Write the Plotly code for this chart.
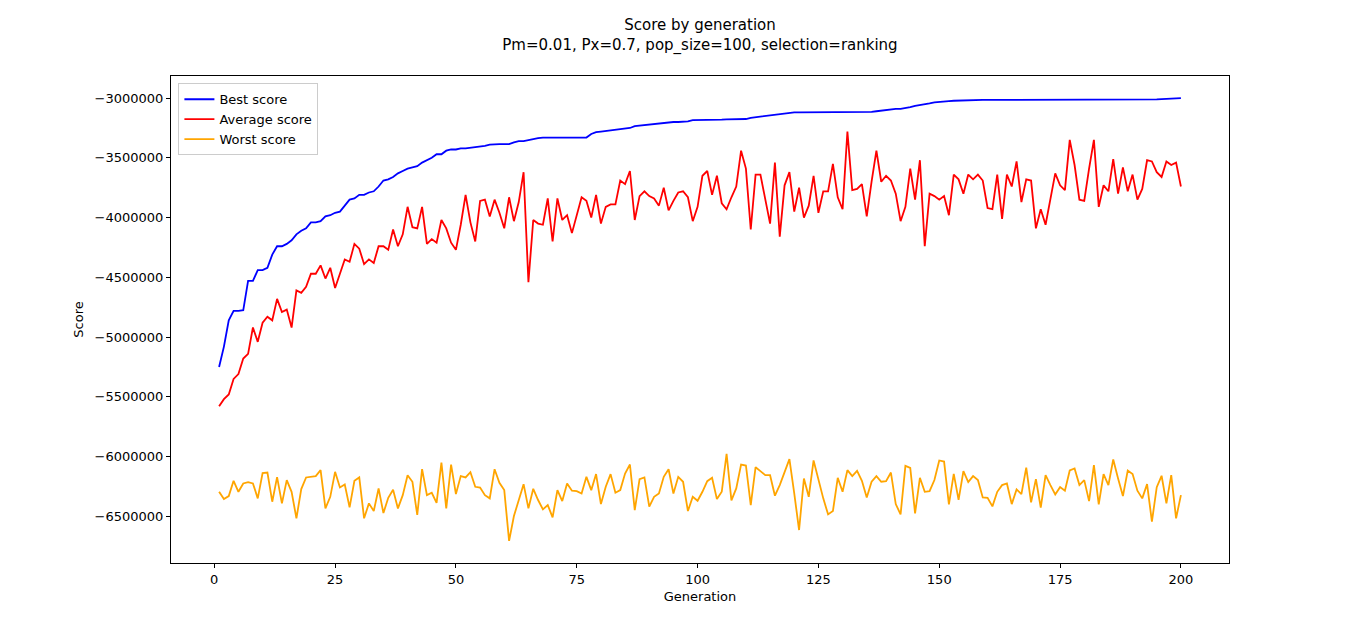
import plotly.graph_objects as go

generations = list(range(1, 201))

# scores in thousands
best_k = [
    -5250, -5080, -4860, -4780, -4780, -4775, -4530, -4530, -4440, -4440,
    -4420, -4310, -4240, -4240, -4220, -4190, -4140, -4110, -4090, -4040,
    -4040, -4030, -3990, -3980, -3960, -3950, -3900, -3850, -3840, -3810,
    -3810, -3790, -3780, -3740, -3690, -3680, -3660, -3630, -3610, -3590,
    -3580, -3570, -3540, -3520, -3500, -3470, -3470, -3440, -3430, -3430,
    -3420, -3420, -3415, -3415, -3410, -3400, -3390, -3385, -3385, -3385,
    -3385, -3370, -3360, -3360, -3350, -3340, -3335, -3330, -3330, -3330,
    -3330, -3330, -3330, -3330, -3330, -3330, -3330, -3300, -3285, -3280,
    -3275, -3265, -3260, -3255, -3255, -3250, -3235, -3230, -3230, -3225,
    -3215, -3210, -3205, -3205, -3200, -3200, -3200, -3195, -3185, -3185,
    -3185, -3180, -3180, -3180, -3180, -3178, -3178, -3177, -3176, -3175,
    -3165, -3160, -3150, -3150, -3145, -3140, -3130, -3125, -3125, -3120,
    -3120, -3120, -3120, -3118, -3118, -3117, -3116, -3115, -3115, -3115,
    -3115, -3115, -3115, -3115, -3115, -3115, -3110, -3105, -3095, -3095,
    -3090, -3090, -3085, -3075, -3065, -3060, -3055, -3045, -3035, -3030,
    -3028, -3025, -3022, -3020, -3020, -3015, -3015, -3015, -3015, -3015,
    -3015, -3015, -3015, -3015, -3015, -3015, -3015, -3015, -3015, -3015,
    -3015, -3015, -3015, -3015, -3015, -3015, -3015, -3015, -3015, -3015,
    -3015, -3015, -3015, -3015, -3015, -3015, -3015, -3015, -3015, -3015,
    -3015, -3015, -3015, -3015, -3010, -3008, -3005, -3002, -3000, -3000,
]

average_k = [
    -5580, -5520, -5480, -5350, -5310, -5180, -5140, -4920, -5040, -4880,
    -4830, -4860, -4680, -4790, -4770, -4920, -4610, -4630, -4580, -4470,
    -4470, -4400, -4510, -4420, -4590, -4470, -4350, -4370, -4220, -4260,
    -4390, -4350, -4380, -4240, -4240, -4270, -4100, -4240, -4140, -3910,
    -4080, -4090, -3910, -4220, -4180, -4210, -4020, -4090, -4210, -4270,
    -4060, -3810, -4040, -4200, -3860, -3850, -3990, -3850, -3960, -4090,
    -3830, -4030, -3870, -3620, -4540, -4020, -4050, -4060, -3840, -4200,
    -3840, -4020, -3980, -4130, -3990, -3830, -3860, -4000, -3810, -4050,
    -3910, -3890, -3890, -3690, -3720, -3610, -4020, -3820, -3780, -3820,
    -3840, -3900, -3750, -3940, -3860, -3790, -3780, -3830, -4030, -3910,
    -3650, -3610, -3810, -3650, -3880, -3930, -3830, -3740, -3440, -3590,
    -4100, -3640, -3640, -3840, -4050, -3540, -4160, -3730, -3620, -3950,
    -3750, -4000, -3900, -3650, -3960, -3780, -3780, -3550, -3830, -3930,
    -3280, -3770, -3760, -3720, -3990, -3700, -3440, -3700, -3650, -3690,
    -3800, -4030, -3910, -3590, -3850, -3520, -4240, -3800, -3820, -3850,
    -3820, -3980, -3640, -3680, -3800, -3640, -3680, -3640, -3690, -3920,
    -3930, -3640, -4010, -3640, -3740, -3530, -3870, -3680, -3690, -4090,
    -3930, -4060, -3850, -3630, -3730, -3770, -3350, -3560, -3850, -3860,
    -3590, -3350, -3910, -3730, -3780, -3510, -3800, -3580, -3780, -3640,
    -3850, -3760, -3520, -3530, -3620, -3660, -3530, -3560, -3540, -3740,
]

worst_k = [
    -6295, -6356, -6331, -6203, -6295, -6225, -6214, -6225, -6350, -6139,
    -6134, -6378, -6172, -6392, -6197, -6295, -6517, -6272, -6175, -6167,
    -6164, -6114, -6434, -6337, -6128, -6259, -6234, -6425, -6203, -6175,
    -6517, -6392, -6456, -6267, -6473, -6345, -6278, -6434, -6323, -6156,
    -6211, -6489, -6106, -6323, -6303, -6387, -6050, -6434, -6067, -6314,
    -6164, -6175, -6131, -6253, -6259, -6323, -6350, -6106, -6220, -6281,
    -6706, -6498, -6364, -6231, -6434, -6270, -6364, -6442, -6406, -6509,
    -6281, -6373, -6225, -6286, -6289, -6309, -6170, -6281, -6147, -6398,
    -6253, -6147, -6303, -6281, -6142, -6067, -6448, -6189, -6175, -6420,
    -6337, -6309, -6170, -6106, -6309, -6170, -6211, -6456, -6337, -6370,
    -6295, -6206, -6178, -6356, -6295, -5978, -6367, -6267, -6067, -6075,
    -6406, -6089, -6122, -6156, -6156, -6328, -6239, -6128, -6022, -6309,
    -6615, -6184, -6337, -6033, -6197, -6350, -6484, -6456, -6178, -6295,
    -6114, -6164, -6120, -6203, -6342, -6211, -6164, -6211, -6206, -6134,
    -6398, -6484, -6078, -6095, -6475, -6178, -6295, -6289, -6197, -6033,
    -6042, -6400, -6145, -6362, -6122, -6214, -6164, -6197, -6342, -6345,
    -6417, -6295, -6239, -6225, -6398, -6275, -6314, -6092, -6384, -6189,
    -6428, -6156, -6239, -6317, -6256, -6286, -6117, -6100, -6239, -6197,
    -6373, -6072, -6400, -6147, -6239, -6025, -6184, -6331, -6117, -6147,
    -6286, -6350, -6231, -6545, -6256, -6161, -6392, -6156, -6517, -6323,
]

y_ticks = [-6500000, -6000000, -5500000, -5000000, -4500000, -4000000, -3500000, -3000000]
x_ticks = [0, 25, 50, 75, 100, 125, 150, 175, 200]

series = [
    ("Best score", best_k, "blue"),
    ("Average score", average_k, "red"),
    ("Worst score", worst_k, "orange"),
]

fig = go.Figure()
for name, vals, color in series:
    fig.add_trace(go.Scatter(
        x=generations,
        y=[v * 1000 for v in vals],
        mode="lines",
        name=name,
        line=dict(color=color, width=1.8),
    ))

axis_style = dict(
    showline=True, linecolor="black", linewidth=1, mirror=True,
    ticks="outside", ticklen=4, tickcolor="black",
    showgrid=False, zeroline=False,
    tickfont=dict(size=13),
)

fig.update_layout(
    width=1366, height=635,
    paper_bgcolor="white", plot_bgcolor="white",
    font=dict(family="DejaVu Sans", size=13, color="black"),
    margin=dict(l=163, r=145, t=68, b=80),
    title=dict(text="Score by generation<br>Pm=0.01, Px=0.7, pop_size=100, selection=ranking",
               x=0.5, xref="paper", xanchor="center",
               yref="container", y=0.965, yanchor="top",
               font=dict(size=15)),
    legend=dict(x=0.007, y=0.985, xanchor="left", yanchor="top",
                bgcolor="white", bordercolor="#cccccc", borderwidth=1,
                font=dict(size=13)),
    showlegend=True,
)
fig.update_xaxes(range=[-8.95, 209.95], tickvals=x_ticks,
                 title=dict(text="Generation", font=dict(size=13), standoff=6), **axis_style)
fig.update_yaxes(range=[-6891000, -2815000], tickvals=y_ticks,
                 ticktext=[f"\u2212{abs(t)}" for t in y_ticks],
                 title=dict(text="Score", font=dict(size=13), standoff=8), **axis_style)

fig.write_html("out.html")
